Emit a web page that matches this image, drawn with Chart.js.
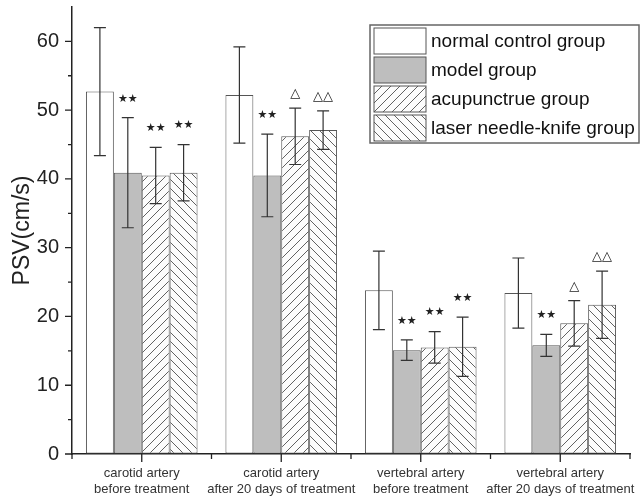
<!DOCTYPE html>
<html lang="en">
<head>
    <meta charset="UTF-8">
    <title>PSV by group</title>
    <script src="https://cdn.jsdelivr.net/npm/chart.js@4.4.1/dist/chart.umd.min.js"></script>
    <style>
        body { margin: 0; background: #fff; }
        .wrap { width: 641px; height: 501px; }
    </style>
</head>
<body>
    <div class="wrap"><canvas id="psvChart"></canvas></div>

    <script>
        // categories and values
        const categories = [
            ['carotid artery', 'before treatment'],
            ['carotid artery', 'after 20 days of treatment'],
            ['vertebral artery', 'before treatment'],
            ['vertebral artery', 'after 20 days of treatment']
        ];
        const groupNames = ['normal control group', 'model group', 'acupunctrue group', 'laser needle-knife group'];

        const normalMean = [52.7, 52.2, 23.8, 23.4];
        const normalSd   = [9.3, 7.0, 5.7, 5.1];
        const modelMean  = [40.9, 40.5, 15.1, 15.8];
        const modelSd    = [8.0, 6.0, 1.5, 1.6];
        const acuMean    = [40.5, 46.2, 15.5, 19.0];
        const acuSd      = [4.1, 4.1, 2.3, 3.3];
        const laserMean  = [40.9, 47.1, 15.6, 21.7];
        const laserSd    = [4.1, 2.8, 4.3, 4.9];

        // significance marks above each bar
        const normalMarks = ['', '', '', ''];
        const modelMarks  = ['**', '**', '**', '**'];
        const acuMarks    = ['**', '△', '**', '△'];
        const laserMarks  = ['**', '△△', '**', '△△'];

        const yTicks = [0, 10, 20, 30, 40, 50, 60];

        // hatch fills
        function hatch(dir) {
            const s = 9;
            const c = document.createElement('canvas');
            c.width = s; c.height = s;
            const g = c.getContext('2d');
            g.fillStyle = '#fcfcfc';
            g.fillRect(0, 0, s, s);
            g.strokeStyle = '#505050';
            g.lineWidth = 0.9;
            g.beginPath();
            if (dir === '/') {
                g.moveTo(-1, s + 1); g.lineTo(s + 1, -1);
                g.moveTo(-1, 1); g.lineTo(1, -1);
                g.moveTo(s - 1, s + 1); g.lineTo(s + 1, s - 1);
            } else {
                g.moveTo(-1, -1); g.lineTo(s + 1, s + 1);
                g.moveTo(s - 1, -1); g.lineTo(s + 1, 1);
                g.moveTo(-1, s - 1); g.lineTo(1, s + 1);
            }
            g.stroke();
            return g.createPattern(c, 'repeat');
        }

        const fills = ['#ffffff', '#bebebe', hatch('/'), hatch('\\')];
        const means = [normalMean, modelMean, acuMean, laserMean];
        const sds = [normalSd, modelSd, acuSd, laserSd];
        const marks = [normalMarks, modelMarks, acuMarks, laserMarks];

        // error bars, significance marks, axis ticks and the boxed legend
        const extras = {
            id: 'extras',
            afterDatasetsDraw(chart) {
                const ctx = chart.ctx;
                const y = chart.scales.y;
                ctx.save();
                chart.data.datasets.forEach((ds, di) => {
                    const meta = chart.getDatasetMeta(di);
                    meta.data.forEach((bar, i) => {
                        const m = means[di][i], sd = sds[di][i];
                        const yt = y.getPixelForValue(m + sd);
                        const yb = y.getPixelForValue(m - sd);
                        ctx.strokeStyle = '#333';
                        ctx.lineWidth = 1.2;
                        ctx.beginPath();
                        ctx.moveTo(bar.x, yt); ctx.lineTo(bar.x, yb);
                        ctx.moveTo(bar.x - 6, yt); ctx.lineTo(bar.x + 6, yt);
                        ctx.moveTo(bar.x - 6, yb); ctx.lineTo(bar.x + 6, yb);
                        ctx.stroke();

                        const mk = marks[di][i];
                        ctx.textAlign = 'center';
                        ctx.textBaseline = 'middle';
                        ctx.fillStyle = '#222';
                        if (mk === '**') {
                            ctx.font = '11px "DejaVu Sans"';
                            ctx.fillText('★★', bar.x, yt - 19);
                        } else if (mk) {
                            ctx.font = '13px "DejaVu Sans"';
                            ctx.fillText(mk, bar.x, yt - 14);
                        }
                    });
                });
                ctx.restore();
            },
            afterDraw(chart) {
                const ctx = chart.ctx;
                const area = chart.chartArea;
                const x = chart.scales.x, y = chart.scales.y;
                ctx.save();
                ctx.strokeStyle = '#222';
                ctx.lineWidth = 1.3;
                ctx.beginPath();
                // y ticks: major every 10, minor every 5
                for (let v = 0; v <= 60; v += 5) {
                    const py = y.getPixelForValue(v);
                    const len = v % 10 === 0 ? 7 : 4;
                    ctx.moveTo(area.left - len, py); ctx.lineTo(area.left, py);
                }
                // x ticks: major at categories, minor between
                const n = categories.length;
                for (let i = 0; i < n; i++) {
                    const px = x.getPixelForValue(i);
                    ctx.moveTo(px, area.bottom); ctx.lineTo(px, area.bottom + 8);
                }
                for (let i = 0; i <= n; i++) {
                    const px = x.getPixelForValue(i - 0.5);
                    ctx.moveTo(px, area.bottom); ctx.lineTo(px, area.bottom + 5);
                }
                ctx.stroke();

                // legend box in the upper right
                const lx = 370, ly = 25, lw = 269, rowH = 29;
                ctx.strokeStyle = '#666';
                ctx.lineWidth = 1.5;
                ctx.strokeRect(lx, ly, lw, rowH * 4 + 2);
                ctx.font = '19px "Liberation Sans", Arial, sans-serif';
                ctx.textBaseline = 'middle';
                ctx.textAlign = 'left';
                chart.data.datasets.forEach((ds, di) => {
                    const ry = ly + 3 + di * rowH;
                    ctx.fillStyle = ds.backgroundColor;
                    ctx.fillRect(lx + 4, ry, 52, 26);
                    ctx.strokeStyle = '#555';
                    ctx.lineWidth = 1;
                    ctx.strokeRect(lx + 4, ry, 52, 26);
                    ctx.fillStyle = '#111';
                    ctx.fillText(ds.label, lx + 61, ry + 14);
                });
                ctx.restore();
            }
        };

        const ctx = document.getElementById('psvChart').getContext('2d');
        new Chart(ctx, {
            type: 'bar',
            data: {
                labels: categories,
                datasets: groupNames.map((name, di) => ({
                    label: name,
                    data: means[di],
                    backgroundColor: fills[di],
                    borderColor: '#555',
                    borderWidth: 1,
                    borderSkipped: false,
                    categoryPercentage: 0.8,
                    barPercentage: 1.0
                }))
            },
            options: {
                responsive: true,
                maintainAspectRatio: false,
                animation: false,
                layout: { padding: { top: 7, right: 11, left: 0, bottom: 0 } },
                plugins: {
                    legend: { display: false },
                    tooltip: { enabled: false }
                },
                scales: {
                    x: {
                        afterFit: s => { s.height = 47; s.paddingLeft = 0; s.paddingRight = 0; },
                        grid: { display: false },
                        border: { display: true, color: '#222', width: 1.5 },
                        ticks: {
                            autoSkip: false,
                            maxRotation: 0,
                            padding: 3,
                            color: '#333',
                            font: { family: '"Liberation Sans", Arial, sans-serif', size: 13, lineHeight: 1.23 }
                        }
                    },
                    y: {
                        min: 0,
                        max: 65,
                        afterFit: s => { s.width = 72; s.paddingTop = 0; s.paddingBottom = 0; },
                        afterBuildTicks: s => { s.ticks = yTicks.map(v => ({ value: v })); },
                        grid: { display: true, drawOnChartArea: false, tickLength: 7, tickColor: 'rgba(0,0,0,0)' },
                        border: { display: true, color: '#222', width: 1.5 },
                        ticks: {
                            padding: 6,
                            color: '#222',
                            font: { family: '"Liberation Sans", Arial, sans-serif', size: 20 }
                        },
                        title: {
                            display: true,
                            text: 'PSV(cm/s)',
                            color: '#222',
                            padding: { top: 9, bottom: 2 },
                            font: { family: '"Liberation Sans", Arial, sans-serif', size: 23 }
                        }
                    }
                }
            },
            plugins: [extras]
        });
    </script>
</body>
</html>
